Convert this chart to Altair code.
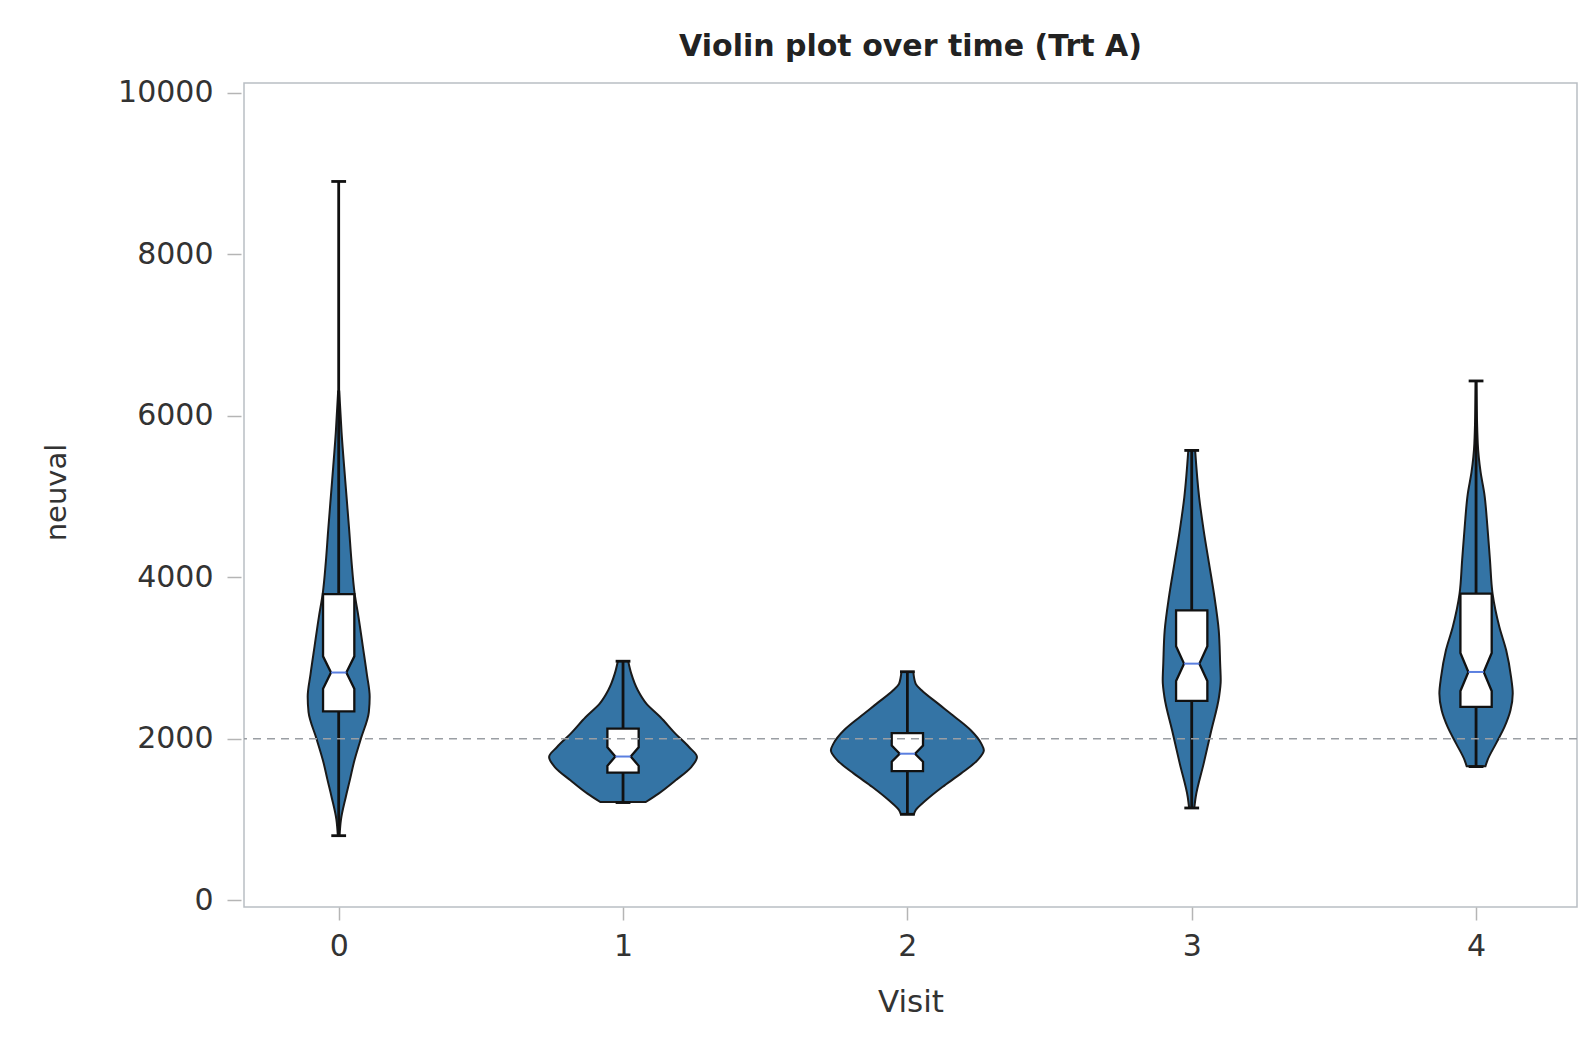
import altair as alt
import pandas as pd

visits = [0, 1, 2, 3, 4]

# Violin outlines: value levels and half-widths (in visit units)
v0_vals = [800, 1000, 1280, 1500, 1700, 2000, 2330, 2520, 2800, 3140, 3500, 3800, 4200, 4580, 5200, 5800, 6300]
v0_half = [0.003, 0.008, 0.025, 0.040, 0.053, 0.078, 0.106, 0.109, 0.099, 0.085, 0.070, 0.056, 0.045, 0.037, 0.023, 0.010, 0.002]

v1_vals = [1217, 1321, 1486, 1650, 1774, 1898, 2064, 2270, 2435, 2600, 2806, 2963]
v1_half = [0.080, 0.125, 0.185, 0.240, 0.260, 0.232, 0.184, 0.131, 0.082, 0.052, 0.029, 0.018]

v2_vals = [1065, 1114, 1238, 1403, 1568, 1733, 1857, 1940, 2105, 2270, 2435, 2600, 2683, 2827]
v2_half = [0.023, 0.029, 0.065, 0.123, 0.188, 0.246, 0.269, 0.260, 0.223, 0.167, 0.108, 0.050, 0.029, 0.021]

v3_vals = [1143, 1279, 1692, 2105, 2517, 2724, 2930, 3343, 3755, 4168, 4581, 4993, 5571]
v3_half = [0.009, 0.014, 0.042, 0.069, 0.096, 0.102, 0.100, 0.095, 0.080, 0.061, 0.042, 0.026, 0.012]

v4_vals = [1659, 1733, 1940, 2146, 2352, 2559, 2765, 3095, 3384, 3797, 4209, 4622, 5035, 5300, 5654, 6429]
v4_half = [0.033, 0.040, 0.070, 0.100, 0.121, 0.129, 0.123, 0.106, 0.082, 0.058, 0.049, 0.040, 0.029, 0.016, 0.006, 0.001]

# Box / whisker statistics
whisker_min = [800, 1210, 1065, 1143, 1655]
whisker_max = [8900, 2960, 2830, 5570, 6430]
q1 = [2340, 1580, 1600, 2470, 2395]
median = [2820, 1780, 1815, 2930, 2827]
q3 = [3790, 2125, 2070, 3590, 3797]
notch = [200, 115, 100, 215, 235]
ref_value = 2000

# Style constants (visit units)
BOX_HALF = 0.055
NOTCH_HALF = 0.027
CAP_HALF = 0.026

violin_rows = []
for v, vals, halves in zip(visits, [v0_vals, v1_vals, v2_vals, v3_vals, v4_vals],
                           [v0_half, v1_half, v2_half, v3_half, v4_half]):
    for val, h in zip(vals, halves):
        violin_rows.append({"visit": v, "value": val, "half": h})
violin_df = pd.DataFrame(violin_rows)

box_rows = []
for v, a, m, b, n in zip(visits, q1, median, q3, notch):
    for val, h in [(a, BOX_HALF), (m - n, BOX_HALF), (m, NOTCH_HALF), (m + n, BOX_HALF), (b, BOX_HALF)]:
        box_rows.append({"visit": v, "value": val, "half": h})
box_df = pd.DataFrame(box_rows)

stats_df = pd.DataFrame({"visit": visits, "min": whisker_min, "max": whisker_max,
                         "median": median})

FONT = "DejaVu Sans"
xscale = alt.Scale(domain=[-0.333, 4.355], nice=False, zero=False)
yscale = alt.Scale(domain=[-83, 10119], nice=False, zero=False)

xaxis = alt.Axis(values=visits, format="d", grid=False, domain=False, tickSize=13,
                 tickColor="#b5b5b5", tickWidth=1.5, labelFont=FONT, labelFontSize=30,
                 labelColor="#333333", labelPadding=11, title="Visit", titleFont=FONT,
                 titleFontSize=31, titleFontWeight="normal", titleColor="#333333",
                 titleY=95, titleBaseline="middle")
yaxis = alt.Axis(values=[0, 2000, 4000, 6000, 8000, 10000], format="d", grid=False,
                 domain=False, offset=3, tickSize=14, tickColor="#b5b5b5", tickWidth=1.5,
                 labelFont=FONT, labelFontSize=30, labelColor="#333333", labelPadding=14,
                 title="neuval", titleFont=FONT, titleFontSize=29, titleFontWeight="normal",
                 titleColor="#333333", titleAngle=270, titleX=-185, titleY=409,
                 titleAlign="center", titleBaseline="middle")

violin = alt.Chart(violin_df).mark_area(
    orient="horizontal", interpolate="monotone", fill="#3474a5", stroke="#1a1a1a",
    strokeWidth=2
).transform_calculate(
    lo="datum.visit - datum.half", hi="datum.visit + datum.half"
).encode(
    y=alt.Y("value:Q", scale=yscale, axis=yaxis),
    x=alt.X("lo:Q", scale=xscale, axis=xaxis),
    x2="hi:Q",
    detail="visit:N",
)

whisker = alt.Chart(stats_df).mark_rule(color="#111111", strokeWidth=2.8).encode(
    x=alt.X("visit:Q", scale=xscale, axis=xaxis),
    y=alt.Y("min:Q", scale=yscale, axis=yaxis),
    y2="max:Q",
)

cap_lo = alt.Chart(stats_df).mark_rule(color="#111111", strokeWidth=2.8).transform_calculate(
    a=f"datum.visit - {CAP_HALF}", b=f"datum.visit + {CAP_HALF}"
).encode(
    x=alt.X("a:Q", scale=xscale, axis=xaxis), x2="b:Q",
    y=alt.Y("min:Q", scale=yscale, axis=yaxis),
)
cap_hi = alt.Chart(stats_df).mark_rule(color="#111111", strokeWidth=2.8).transform_calculate(
    a=f"datum.visit - {CAP_HALF}", b=f"datum.visit + {CAP_HALF}"
).encode(
    x=alt.X("a:Q", scale=xscale, axis=xaxis), x2="b:Q",
    y=alt.Y("max:Q", scale=yscale, axis=yaxis),
)

box = alt.Chart(box_df).mark_area(
    orient="horizontal", interpolate="linear", fill="white", stroke="#111111",
    strokeWidth=2.3
).transform_calculate(
    lo="datum.visit - datum.half", hi="datum.visit + datum.half"
).encode(
    y=alt.Y("value:Q", scale=yscale, axis=yaxis),
    x=alt.X("lo:Q", scale=xscale, axis=xaxis),
    x2="hi:Q",
    detail="visit:N",
)

med = alt.Chart(stats_df).mark_rule(color="#5a7fe0", strokeWidth=2).transform_calculate(
    a=f"datum.visit - {NOTCH_HALF}", b=f"datum.visit + {NOTCH_HALF}"
).encode(
    x=alt.X("a:Q", scale=xscale, axis=xaxis), x2="b:Q",
    y=alt.Y("median:Q", scale=yscale, axis=yaxis),
)

ref = alt.Chart(pd.DataFrame({"ref": [ref_value]})).mark_rule(
    color="#9a9ea3", strokeWidth=1.5, strokeDash=[8, 6]
).encode(y=alt.Y("ref:Q", scale=yscale, axis=yaxis))

chart = alt.layer(violin, whisker, cap_lo, cap_hi, box, med, ref).properties(
    width=1333, height=824,
    title=alt.TitleParams("Violin plot over time (Trt A)", font=FONT, fontSize=30,
                          fontWeight="bold", color="#222222", anchor="middle",
                          frame="group", offset=16),
    autosize=alt.AutoSizeParams(type="none"),
    padding={"left": 236, "top": 75, "right": 6, "bottom": 120},
).configure_view(stroke="#b9bec3", strokeWidth=1.5)

chart.save("out.html", embed_options={"renderer": "svg", "actions": False})
